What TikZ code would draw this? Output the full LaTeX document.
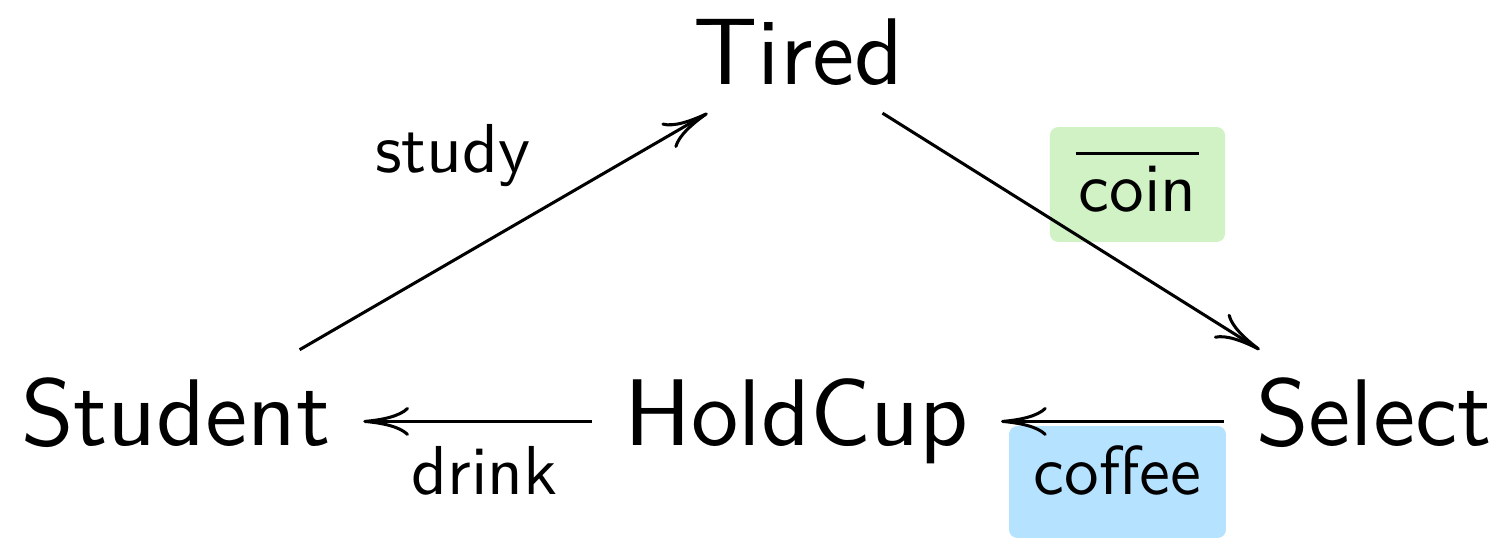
\documentclass[tikz,border=0pt]{standalone}
\usepackage{fontspec}
\setsansfont{lmsans10-regular.otf}
\usetikzlibrary{arrows.meta}
\definecolor{coingreen}{RGB}{209,242,197}
\definecolor{coffeeblue}{RGB}{181,227,255}
\begin{document}
\begin{tikzpicture}[x=0.2627pt,y=-0.2627pt,
  state/.style={font=\sffamily\fontsize{24.88}{30}\selectfont, text height=16.8pt, text depth=3.9pt, inner xsep=8.29pt, inner ysep=8.29pt, anchor=base},
  lbl/.style={font=\sffamily\fontsize{18.2}{22}\selectfont, anchor=base, inner sep=0pt},
  tag/.style={font=\sffamily\fontsize{18.2}{22}\selectfont, rounded corners=2.2pt, inner sep=0pt},
  arr/.style={line width=0.8pt, -{Computer Modern Rightarrow[length=12pt,width=7.6pt]}}]
\useasboundingbox (0,0) rectangle (1504,539);
% states
\node[state, inner ysep=3.3pt] (tired) at (798.5,85) {Tired};
\node[state] (stu) at (176,446) {Student};
\node[state] (hc) at (796.5,446) {HoldCup};
\node[state] (sel) at (1374,446) {Select};
% labels
\node[lbl] (study) at (453,173) {study};
\node[lbl] (drink) at (484.5,495) {drink};
\node[tag, fill=coingreen, minimum width=46pt, minimum height=30.2pt, text height=22.3pt, text depth=7.9pt] (coin) at (1137.5,184.5) {\vbox{\hrule height 0.8pt\kern 2.9pt\hbox{\kern 0.8pt coin\kern 0.8pt}}};
\node[tag, fill=coffeeblue, minimum width=57pt, minimum height=29.4pt, text height=18.1pt, text depth=11.3pt] (coffee) at (1117.5,482) {coffee};
% transitions
\draw[arr] (stu) -- (tired);
\draw[arr] (tired) -- (sel);
\draw[arr] (sel) -- (hc);
\draw[arr] (hc) -- (stu);
\end{tikzpicture}
\end{document}
